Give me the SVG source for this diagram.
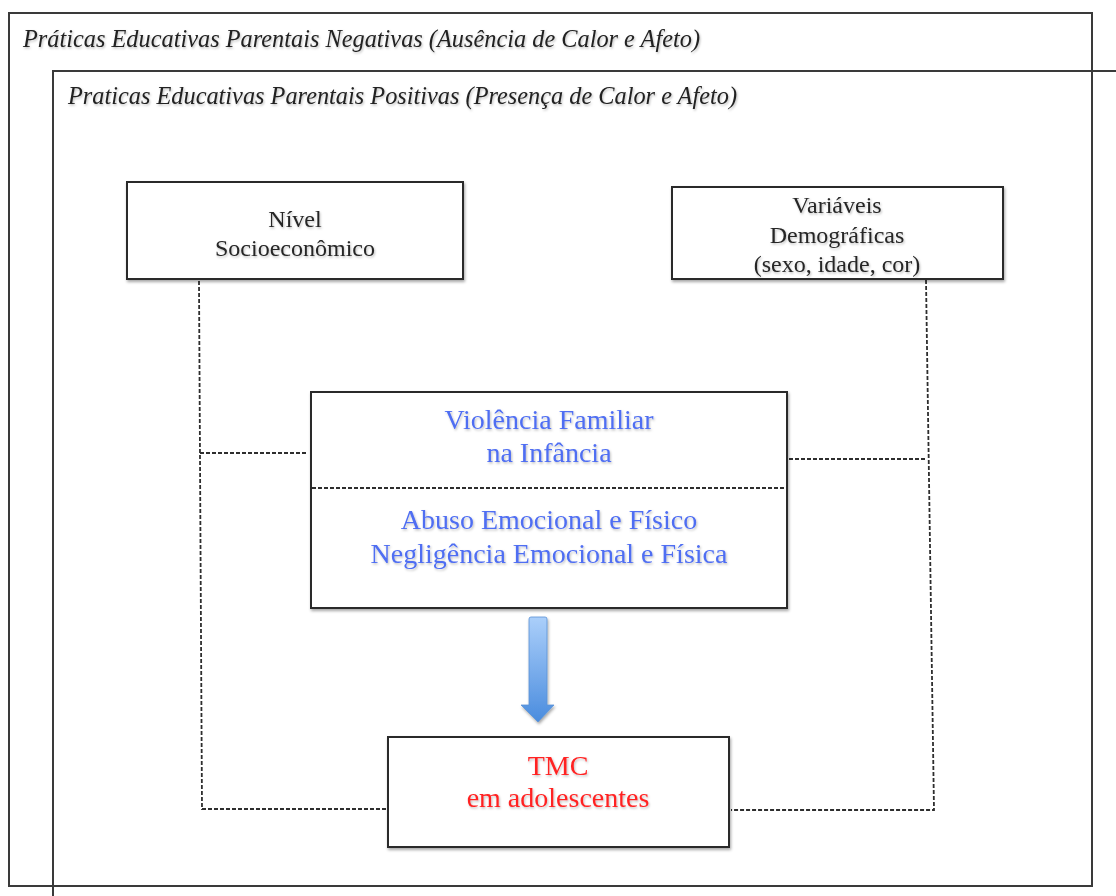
<svg xmlns="http://www.w3.org/2000/svg" width="1116" height="896" viewBox="0 0 1116 896">
  <defs>
    <style>
      .frame { fill: none; stroke: #3a3a3a; stroke-width: 2; }
      .box { fill: #ffffff; stroke: #2a2a2a; stroke-width: 2; filter: url(#shadow); }
      .dash { fill: none; stroke: #2e2e2e; stroke-width: 1.8; stroke-dasharray: 4 2; }
      .title { font-family: "Liberation Serif", "Times New Roman", serif; font-style: italic; font-size: 24.3px; fill: #222222; filter: url(#tshadow); }
      .label { font-family: "Liberation Serif", "Times New Roman", serif; font-size: 24px; fill: #262626; text-anchor: middle; filter: url(#tshadow); }
      .blue { font-family: "Liberation Serif", "Times New Roman", serif; font-size: 28px; fill: #4f6ef2; text-anchor: middle; filter: url(#tshadow); }
      .red { font-family: "Liberation Serif", "Times New Roman", serif; font-size: 28px; fill: #ff2424; text-anchor: middle; filter: url(#tshadow); }
    </style>
    <filter id="shadow" x="-5%" y="-5%" width="115%" height="120%">
      <feDropShadow dx="1" dy="2" stdDeviation="1.5" flood-color="#000000" flood-opacity="0.35"/>
    </filter>
    <filter id="tshadow" x="-5%" y="-20%" width="110%" height="150%">
      <feDropShadow dx="1" dy="1.5" stdDeviation="1" flood-color="#000000" flood-opacity="0.25"/>
    </filter>
    <linearGradient id="arrowFill" x1="0" y1="0" x2="0" y2="1">
      <stop offset="0" stop-color="#abcffa"/>
      <stop offset="1" stop-color="#4a8cde"/>
    </linearGradient>
  </defs>

  <rect width="1116" height="896" fill="#ffffff"/>

  <!-- outer frame: negative parenting practices -->
  <g id="frame-negativas">
    <rect class="frame" x="9" y="13" width="1083" height="873"/>
    <text class="title" x="23" y="47" textLength="677">Práticas Educativas Parentais Negativas (Ausência de Calor e Afeto)</text>
  </g>

  <!-- inner frame: positive parenting practices (open to the right and bottom) -->
  <g id="frame-positivas">
    <path class="frame" d="M53,896 V71 H1116"/>
    <text class="title" x="68" y="104" textLength="669">Praticas Educativas Parentais Positivas (Presença de Calor e Afeto)</text>
  </g>

  <!-- dashed connectors -->
  <g id="connectors">
    <path class="dash" d="M199,281 L202,809 H388"/>
    <path class="dash" d="M200,453 H306"/>
    <path class="dash" d="M926,280 L934,810 H731"/>
    <path class="dash" d="M789,459 H927"/>
  </g>

  <g id="nivel-socioeconomico">
    <rect class="box" x="127" y="182" width="336" height="97"/>
    <text class="label" x="295" y="227">Nível</text>
    <text class="label" x="295" y="256">Socioeconômico</text>
  </g>

  <g id="variaveis-demograficas">
    <rect class="box" x="672" y="187" width="331" height="92"/>
    <text class="label" x="837" y="213">Variáveis</text>
    <text class="label" x="837" y="243">Demográficas</text>
    <text class="label" x="837" y="272">(sexo, idade, cor)</text>
  </g>

  <g id="violencia-familiar">
    <rect class="box" x="311" y="392" width="476" height="216"/>
    <line class="dash" x1="312" y1="488" x2="786" y2="488"/>
    <text class="blue" x="549" y="429">Violência Familiar</text>
    <text class="blue" x="549" y="462">na Infância</text>
    <text class="blue" x="549" y="529">Abuso Emocional e Físico</text>
    <text class="blue" x="549" y="563">Negligência Emocional e Física</text>
  </g>

  <g id="seta">
    <path d="M531,617 H545 Q547,617 547,619 V705 H554 L538,722 L521,705 H529 V619 Q529,617 531,617 Z" fill="url(#arrowFill)" stroke="#5a92d6" stroke-width="0.8" filter="url(#shadow)"/>
  </g>

  <g id="tmc-adolescentes">
    <rect class="box" x="388" y="737" width="341" height="110"/>
    <text class="red" x="558" y="775">TMC</text>
    <text class="red" x="558" y="807">em adolescentes</text>
  </g>
</svg>
